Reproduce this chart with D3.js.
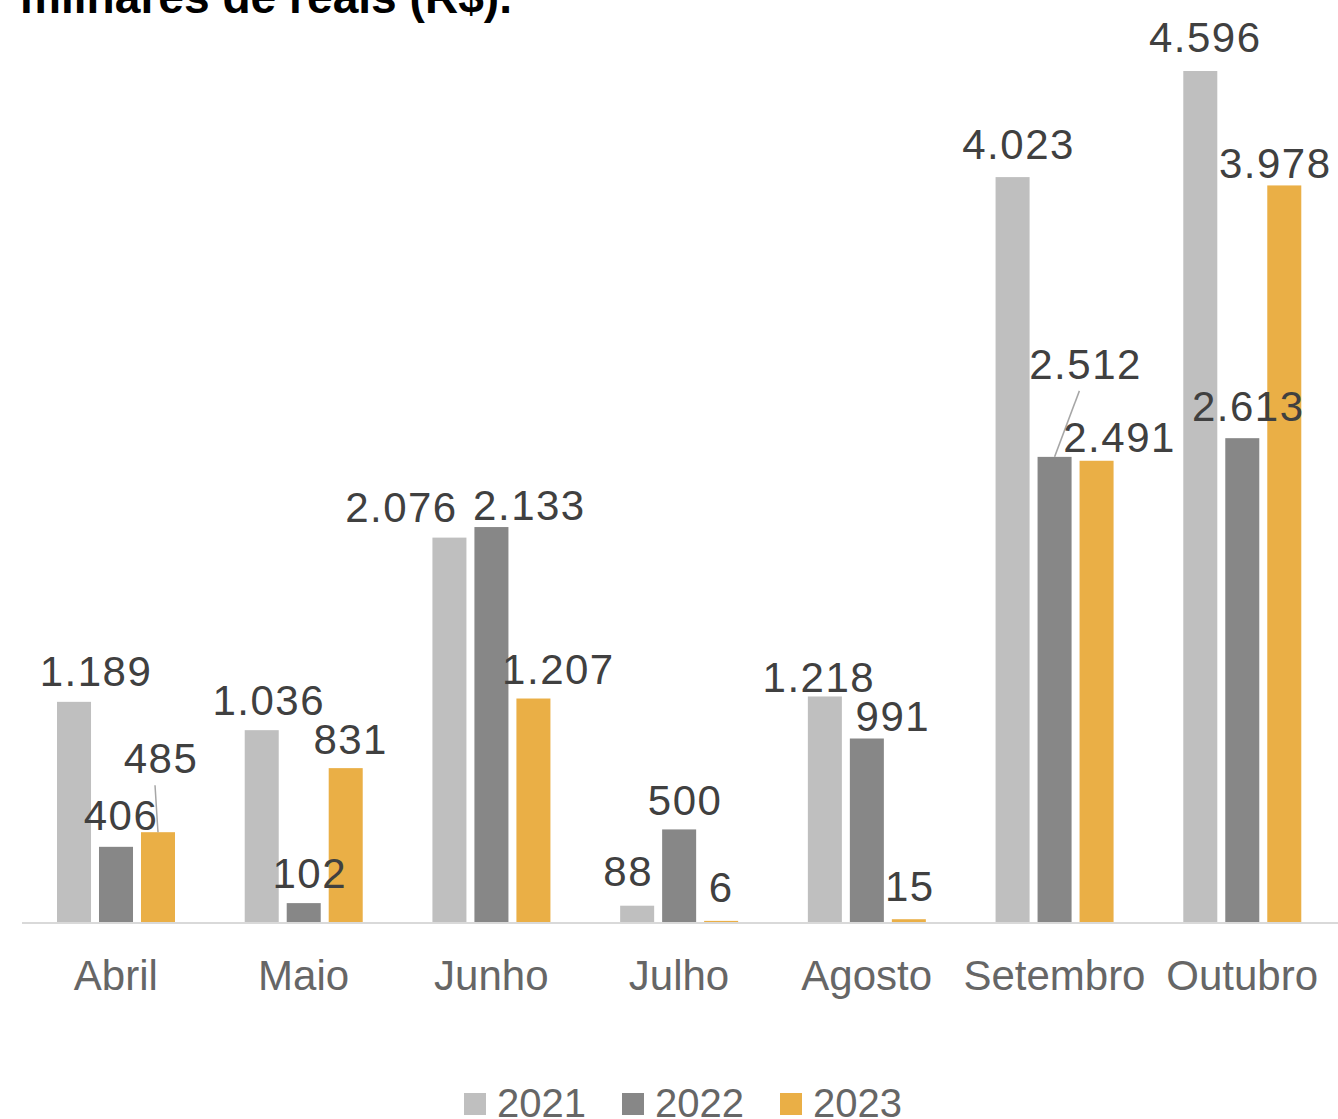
<!DOCTYPE html>
<html><head><meta charset="utf-8">
<script src="https://cdn.jsdelivr.net/npm/d3@7"></script>
<style>html,body{margin:0;padding:0;background:#fff;}svg{display:block;}</style>
</head><body>
<svg id="chart" width="1338" height="1119"></svg>
<script>
const months = ["Abril","Maio","Junho","Julho","Agosto","Setembro","Outubro"];
const seriesNames = ["2021","2022","2023"];
const s2021 = [1189,1036,2076,88,1218,4023,4596];
const s2022 = [406,102,2133,500,991,2512,2613];
const s2023 = [485,831,1207,6,15,2491,3978];
const titleText = "milhares de reais (R$).";

// layout: label nudges [dx, baseline offset from bar top]
const labelNudge = [
  [[22,-16],[7,-15],[-48,-16],[-9,-20],[-6,-4],[6,-18],[5,-19]],
  [[5,-17],[6,-15],[38,-7],[6,-14],[26,-8],[31,-78],[6,-17]],
  [[3,-59],[5,-14],[25,-15],[0,-19],[1,-18],[23,-9],[-9,-7]]
];
const colors = ["#BFBFBF","#878787","#EAAF46"];
const allSeries = [s2021,s2022,s2023];

const svg = d3.select("#chart");
const loc = d3.formatLocale({decimal:",",thousands:".",grouping:[3],currency:["R$",""]});
const fmt = loc.format(",d");

const baseY = 922;
const x0 = d3.scaleBand().domain(months).range([22,1336]).paddingInner(0).paddingOuter(0);
const x1 = d3.scaleBand().domain(seriesNames).range([35,153]).paddingInner(0.19).paddingOuter(0);
const y = d3.scaleLinear().domain([0,4596]).range([baseY,71]);

// title
svg.append("text").attr("x",20).attr("y",13)
  .attr("font-family","Liberation Sans, Arial, sans-serif").attr("font-weight","bold")
  .attr("font-size",46).attr("fill","#000").attr("textLength",492).attr("lengthAdjust","spacingAndGlyphs")
  .text(titleText);

// bars
seriesNames.forEach((s,si)=>{
  svg.append("g").selectAll("rect").data(allSeries[si]).join("rect")
    .attr("x",(d,i)=>x0(months[i])+x1(s))
    .attr("y",d=>y(d))
    .attr("width",x1.bandwidth())
    .attr("height",d=>baseY-y(d))
    .attr("fill",colors[si]);
});

// axis line
svg.append("line").attr("x1",22).attr("x2",1338).attr("y1",baseY+1).attr("y2",baseY+1)
  .attr("stroke","#D9D9D9").attr("stroke-width",2);

// category labels via axis
const axis = d3.axisBottom(x0).tickSize(0).tickPadding(0);
const ag = svg.append("g").attr("transform",`translate(0,${baseY})`).call(axis);
ag.select(".domain").remove();
ag.selectAll("text").attr("font-family","Liberation Sans, Arial, sans-serif")
  .attr("font-size",42).attr("fill","#666").attr("dy",null).attr("y",68);

// leader lines
const leaders = [[2,0],[1,5]];
leaders.forEach(([si,mi])=>{
  const s = seriesNames[si];
  const cx = x0(months[mi])+x1(s)+x1.bandwidth()/2;
  const top = y(allSeries[si][mi]);
  const n = labelNudge[si][mi];
  svg.append("line")
    .attr("x1",cx+n[0]*(si===1?0.8:-1)).attr("y1",top+n[1]+12)
    .attr("x2",cx).attr("y2",top)
    .attr("stroke","#A6A6A6").attr("stroke-width",1.5);
});

// data labels
seriesNames.forEach((s,si)=>{
  svg.append("g").selectAll("text").data(allSeries[si]).join("text")
    .attr("x",(d,i)=>x0(months[i])+x1(s)+x1.bandwidth()/2+labelNudge[si][i][0])
    .attr("y",(d,i)=>y(d)+labelNudge[si][i][1])
    .attr("text-anchor","middle")
    .attr("font-family","Liberation Sans, Arial, sans-serif")
    .attr("font-size",42).attr("letter-spacing","1.5px").attr("fill","#404040")
    .text(d=>fmt(d));
});

// legend
const lg = svg.append("g");
const legX = [464,622,780];
seriesNames.forEach((s,si)=>{
  lg.append("rect").attr("x",legX[si]).attr("y",1093).attr("width",22).attr("height",22).attr("fill",colors[si]);
  lg.append("text").attr("x",legX[si]+33).attr("y",1117)
    .attr("font-family","Liberation Sans, Arial, sans-serif").attr("font-size",40).attr("fill","#666").text(s);
});
</script>
</body></html>
